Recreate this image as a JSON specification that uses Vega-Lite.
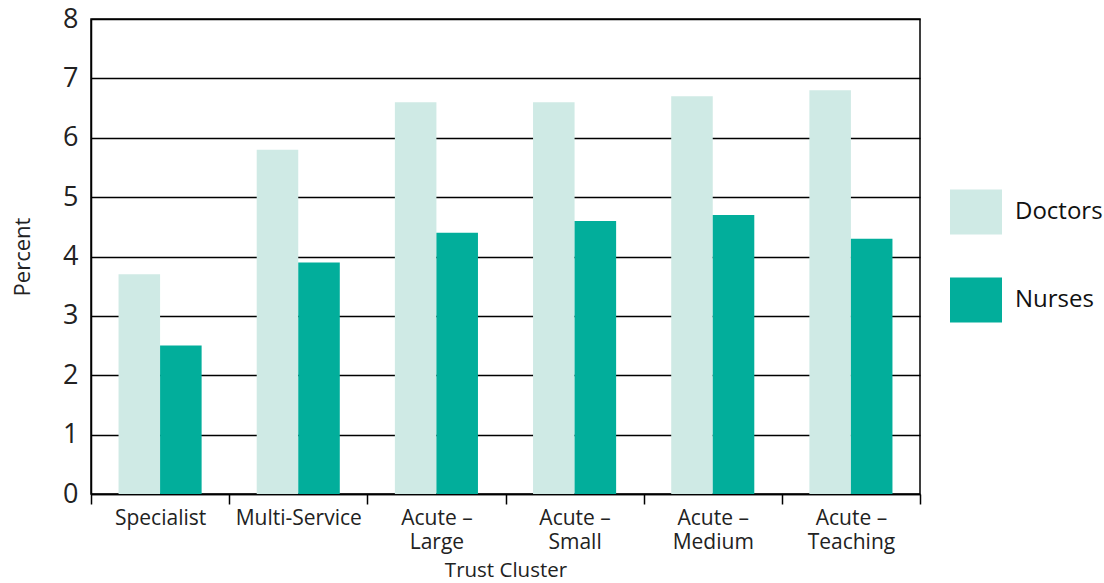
{
  "$schema": "https://vega.github.io/schema/vega-lite/v6.json",
  "width": 829,
  "height": 475,
  "autosize": "none",
  "padding": {"left": 91, "top": 19, "right": 184, "bottom": 89},
  "background": "white",
  "data": {
    "values": [
      {"cluster": "Specialist", "group": "Doctors", "percent": 3.7},
      {"cluster": "Specialist", "group": "Nurses", "percent": 2.5},
      {"cluster": "Multi-Service", "group": "Doctors", "percent": 5.8},
      {"cluster": "Multi-Service", "group": "Nurses", "percent": 3.9},
      {"cluster": "Acute – Large", "group": "Doctors", "percent": 6.6},
      {"cluster": "Acute – Large", "group": "Nurses", "percent": 4.4},
      {"cluster": "Acute – Small", "group": "Doctors", "percent": 6.6},
      {"cluster": "Acute – Small", "group": "Nurses", "percent": 4.6},
      {"cluster": "Acute – Medium", "group": "Doctors", "percent": 6.7},
      {"cluster": "Acute – Medium", "group": "Nurses", "percent": 4.7},
      {"cluster": "Acute – Teaching", "group": "Doctors", "percent": 6.8},
      {"cluster": "Acute – Teaching", "group": "Nurses", "percent": 4.3}
    ]
  },
  "config": {
    "font": "Open Sans",
    "view": {"stroke": "black", "strokeWidth": 1.5},
    "axis": {"domainColor": "black", "tickColor": "black", "labelColor": "#222", "titleColor": "#222", "titleFontWeight": "normal", "labelFont": "Open Sans", "titleFont": "Open Sans"},
    "legend": {"labelFont": "Open Sans"}
  },
  "mark": {"type": "bar"},
  "encoding": {
    "x": {
      "field": "cluster",
      "type": "nominal",
      "sort": null,
      "scale": {"paddingInner": 0, "paddingOuter": 0},
      "axis": {
        "title": "Trust Cluster",
        "titleFontSize": 20.5,
        "titlePadding": 8,
        "labelFontSize": 21,
        "labelAngle": 0,
        "labelPadding": 3,
        "labelLineHeight": 24,
        "labelExpr": "split(replace(datum.label, '– ', '–|'), '|')",
        "tickBand": "extent",
        "tickSize": 10,
        "tickWidth": 1.5,
        "domainWidth": 1.5
      }
    },
    "xOffset": {
      "field": "group",
      "type": "nominal",
      "scale": {"paddingInner": 0, "paddingOuter": 0.663}
    },
    "y": {
      "field": "percent",
      "type": "quantitative",
      "scale": {"domain": [0, 8]},
      "axis": {
        "title": "Percent",
        "titleFontSize": 22,
        "titlePadding": 28,
        "labelFontSize": 27,
        "labelPadding": 13,
        "ticks": false,
        "tickCount": 8,
        "grid": true,
        "gridColor": "black",
        "gridWidth": 1.5,
        "domainWidth": 1.5
      }
    },
    "color": {
      "field": "group",
      "type": "nominal",
      "scale": {"domain": ["Doctors", "Nurses"], "range": ["#cfeae5", "#02ae9b"]},
      "legend": {
        "title": null,
        "orient": "none",
        "legendX": 859,
        "legendY": 167,
        "padding": 0,
        "symbolType": "M-1,-0.865H1V0.865H-1Z",
        "symbolSize": 2704,
        "symbolStrokeWidth": 0,
        "symbolOpacity": 1,
        "labelFontSize": 24,
        "labelColor": "#111",
        "labelOffset": 13,
        "rowPadding": 39
      }
    }
  }
}
